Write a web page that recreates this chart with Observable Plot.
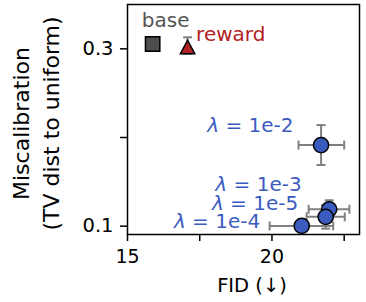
<!DOCTYPE html>
<html>
<head>
<meta charset="utf-8">
<script src="https://cdn.jsdelivr.net/npm/d3@7"></script>
<script src="https://cdn.jsdelivr.net/npm/@observablehq/plot@0.6"></script>
<style>
  html, body { margin: 0; padding: 0; background: #fff; }
  svg { font-family: "DejaVu Sans", sans-serif; }
</style>
</head>
<body>
<div id="chart"></div>
<script>
// ---- data ----
const methods = ["base", "reward", "λ = 1e-2", "λ = 1e-3", "λ = 1e-5", "λ = 1e-4"];
const groups  = ["base", "reward", "lambda", "lambda", "lambda", "lambda"];
const fid     = [15.87, 17.08, 21.70, 21.98, 21.86, 21.03];
const fidLow  = [null, null, 20.92, 21.27, 21.20, 19.92];
const fidHigh = [null, null, 22.50, 22.68, 22.52, 22.12];
const miscal  = [0.3055, 0.3018, 0.1915, 0.1190, 0.1105, 0.1003];
const miscalLow  = [null, 0.2945, 0.1690, 0.1088, 0.0972, 0.0960];
const miscalHigh = [null, 0.3130, 0.2140, 0.1292, 0.1238, 0.1046];
const xTicks = [15, 17.5, 20, 22.5];
const xTickLabels = ["15", "", "20", ""];
const yTicks = [0.1, 0.2, 0.3];
const yTickLabels = ["0.1", "", "0.3"];
const xLabel = "FID (↓)";
const yLabel1 = "Miscalibration";
const yLabel2 = "(TV dist to uniform)";
const xDomain = [15, 23.03];
const yDomain = [0.0906, 0.350];

const rows = methods.map((m, i) => ({
  method: m, group: groups[i], fid: fid[i], fidLow: fidLow[i], fidHigh: fidHigh[i],
  miscal: miscal[i], miscalLow: miscalLow[i], miscalHigh: miscalHigh[i]
}));
const xErr = rows.filter(d => d.fidLow != null);
const yErr = rows.filter(d => d.miscalLow != null);

const BLUE = "#3b5bbf", RED = "#b22222", GRAY = "#808080";

const vcap = { draw(ctx) { ctx.moveTo(0, -4.5); ctx.lineTo(0, 4.5); } };
const hcap = { draw(ctx) { ctx.moveTo(-4.5, 0); ctx.lineTo(4.5, 0); } };
const tri  = { draw(ctx) { ctx.moveTo(0, -6.8); ctx.lineTo(7.2, 6.4); ctx.lineTo(-7.2, 6.4); ctx.closePath(); } };

const byMethod = m => rows.filter(d => d.method === m);
const yMid = (yDomain[0] + yDomain[1]) / 2;
const xMid = (xDomain[0] + xDomain[1]) / 2;

const chart = Plot.plot({
  width: 366,
  height: 302,
  marginLeft: 127,
  marginRight: 7,
  marginTop: 4,
  marginBottom: 68,
  style: { fontFamily: "DejaVu Sans, sans-serif", background: "white", overflow: "visible" },
  x: { domain: xDomain },
  y: { domain: yDomain },
  marks: [
    Plot.axisX({ ticks: xTicks, tickFormat: d => xTickLabels[xTicks.indexOf(d)], tickSize: 7, tickPadding: 8, fontSize: 19, strokeWidth: 1.5, label: null, color: "black" }),
    Plot.axisY({ ticks: yTicks, tickFormat: d => yTickLabels[yTicks.indexOf(d)], tickSize: 7, tickPadding: 7, fontSize: 19.5, strokeWidth: 1.5, label: null, color: "black" }),
    // error bars
    Plot.ruleY(xErr, { y: "miscal", x1: "fidLow", x2: "fidHigh", stroke: GRAY, strokeWidth: 2 }),
    Plot.ruleX(yErr, { x: "fid", y1: "miscalLow", y2: "miscalHigh", stroke: GRAY, strokeWidth: 2 }),
    Plot.dot(xErr, { x: "fidLow", y: "miscal", symbol: vcap, stroke: GRAY, strokeWidth: 2, fill: "none" }),
    Plot.dot(xErr, { x: "fidHigh", y: "miscal", symbol: vcap, stroke: GRAY, strokeWidth: 2, fill: "none" }),
    Plot.dot(yErr, { x: "fid", y: "miscalLow", symbol: hcap, stroke: GRAY, strokeWidth: 2, fill: "none" }),
    Plot.dot(yErr, { x: "fid", y: "miscalHigh", symbol: hcap, stroke: GRAY, strokeWidth: 2, fill: "none" }),
    // markers
    Plot.dot(byMethod("base"), { x: "fid", y: "miscal", symbol: "square", r: 8.1, fill: "#4d4d4d", stroke: "black", strokeWidth: 1.5 }),
    Plot.dot(byMethod("reward"), { x: "fid", y: "miscal", symbol: tri, fill: RED, stroke: "black", strokeWidth: 1.5 }),
    Plot.dot(rows.filter(d => d.group === "lambda"), { x: "fid", y: "miscal", r: 7.6, fill: BLUE, stroke: "black", strokeWidth: 1.5 }),
    // annotations
    Plot.text(byMethod("base"), { x: "fid", y: "miscal", text: "method", dx: 13, dy: -23, fill: "#555555", fontSize: 20, textAnchor: "middle" }),
    Plot.text(byMethod("reward"), { x: "fid", y: "miscal", text: "method", dx: 8.5, dy: -12.5, fill: RED, fontSize: 20, textAnchor: "start" }),
    Plot.text(byMethod("λ = 1e-2"), { x: "fid", y: "miscal", text: "method", dx: -27.5, dy: -19, fill: BLUE, fontSize: 20, textAnchor: "end" }),
    Plot.text(byMethod("λ = 1e-3"), { x: "fid", y: "miscal", text: "method", dx: -27.5, dy: -25, fill: BLUE, fontSize: 20, textAnchor: "end" }),
    Plot.text(byMethod("λ = 1e-5"), { x: "fid", y: "miscal", text: "method", dx: -27.5, dy: -13.5, fill: BLUE, fontSize: 20, textAnchor: "end" }),
    Plot.text(byMethod("λ = 1e-4"), { x: "fid", y: "miscal", text: "method", dx: -41.5, dy: -4.5, fill: BLUE, fontSize: 20, textAnchor: "end" }),
    // frame
    Plot.frame({ stroke: "black", strokeWidth: 1.5 }),
    // axis labels
    Plot.text([xLabel], { x: () => xMid, y: () => yDomain[0], text: d => d, dx: 8.5, dy: 51, fontSize: 19.5, fill: "black" }),
    Plot.text([yLabel1], { x: () => xDomain[0], y: () => yMid, text: d => d, rotate: -90, dx: -106, dy: 4, fontSize: 22, fill: "black" }),
    Plot.text([yLabel2], { x: () => xDomain[0], y: () => yMid, text: d => d, rotate: -90, dx: -76, dy: 4, fontSize: 22, fill: "black" })
  ]
});

// italicize the lambda
d3.select(chart).selectAll("text").each(function() {
  const t = d3.select(this);
  const s = t.text();
  if (s.startsWith("λ") && this.children.length === 0) {
    t.text(null);
    t.append("tspan").attr("font-style", "italic").text("λ");
    t.append("tspan").text(s.slice(1));
  }
});

document.getElementById("chart").appendChild(chart);
</script>
</body>
</html>
